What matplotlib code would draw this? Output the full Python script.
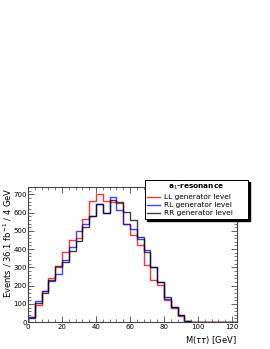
import numpy as np
import matplotlib
matplotlib.use('Agg')
import matplotlib.pyplot as plt
from matplotlib.ticker import MultipleLocator

# 4 GeV bins from 0 to 124 GeV
edges = np.arange(0, 128, 4)

# events per bin (zeros above 96 GeV)
ll = [28, 92, 171, 243, 304, 383, 448, 460, 565, 663, 704, 663, 658, 654, 540, 476,
      421, 312, 230, 202, 120, 75, 33, 6, 0, 0, 0, 0, 0, 0, 0]
rl = [28, 114, 171, 225, 263, 340, 414, 497, 540, 580, 648, 599, 685, 617, 540, 512,
      457, 394, 303, 220, 129, 84, 38, 6, 0, 0, 0, 0, 0, 0, 0]
rr = [22, 107, 157, 230, 309, 332, 387, 442, 521, 580, 645, 599, 667, 660, 604, 558,
      467, 385, 303, 220, 139, 84, 38, 6, 0, 0, 0, 0, 0, 0, 0]

labels = ['LL generator level', 'RL generator level', 'RR generator level']

fig = plt.figure(figsize=(2.7, 3.49), dpi=100)
ax = fig.add_axes([0.104, 0.077, 0.774, 0.387])

ax.stairs(ll, edges, color='red', alpha=0.8, lw=1.0, label=labels[0])
ax.stairs(rl, edges, color='blue', alpha=0.75, lw=1.0, label=labels[1])
ax.stairs(rr, edges, color='black', alpha=0.75, lw=1.0, label=labels[2])

ax.set_xlim(0, 123)
ax.set_ylim(0, 740)
ax.xaxis.set_major_locator(MultipleLocator(20))
ax.xaxis.set_minor_locator(MultipleLocator(4))
ax.yaxis.set_major_locator(MultipleLocator(100))
ax.yaxis.set_minor_locator(MultipleLocator(20))
ax.tick_params(which='both', direction='in', top=True, right=True, labelsize=5,
               pad=1.0, color='#444444')
ax.tick_params(axis='x', pad=1.0)
ax.tick_params(which='major', length=4, width=0.6)
ax.tick_params(which='minor', length=2, width=0.5)
for s in ax.spines.values():
    s.set_color('#444444')
    s.set_linewidth(0.8)

ax.set_xlabel(r'M($\tau\tau$) [GeV]', fontsize=6, loc='right')
ax.xaxis.set_label_coords(1.0, -0.085)
ax.set_ylabel(r'Events / 36.1 fb$^{-1}$ / 4 GeV', fontsize=6, loc='top')
ax.yaxis.set_label_coords(-0.068, 1.0)

leg = fig.legend(loc='upper left', bbox_to_anchor=(0.537, 0.360, 0.382, 0.124),
                 mode='expand', fontsize=5.3,
                 title=r'a$_1$-resonance', title_fontproperties={'weight': 'bold', 'size': 5.3},
                 frameon=True, fancybox=False, shadow=False, framealpha=1,
                 edgecolor='black', borderpad=0.3, handlelength=1.7, labelspacing=0.25,
                 handletextpad=0.6, borderaxespad=0)
leg.get_frame().set_linewidth(0.7)
leg.set_zorder(5)

# small black drop shadow behind the legend box, 2 px offset
fig.canvas.draw()
bb = leg.get_window_extent().transformed(fig.transFigure.inverted())
dx, dy = 2.0 / 270, 2.0 / 349
fig.patches.append(plt.Rectangle((bb.x0 + dx, bb.y0 - dy), bb.width, bb.height,
                                 transform=fig.transFigure, color='black', zorder=4))

fig.savefig('out.png', dpi=100)
